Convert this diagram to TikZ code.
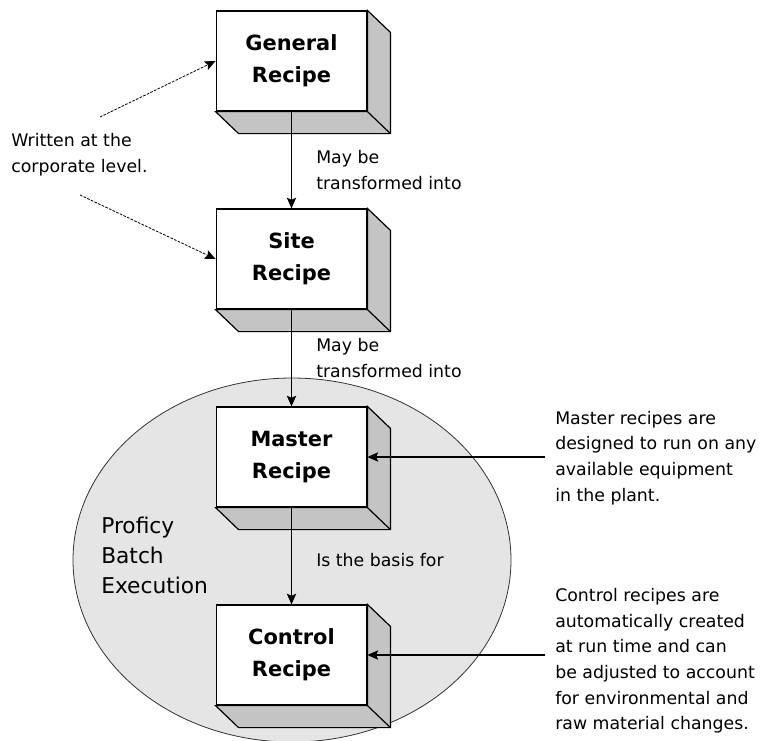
\documentclass[tikz,border=0pt]{standalone}
\usepackage{fontspec}
\setmainfont{DejaVu Sans}
\usepackage{tikz}
\usetikzlibrary{arrows.meta}
\definecolor{bexfill}{gray}{0.9}
\definecolor{boxside}{gray}{0.77}
\tikzstyle{recipe} = [rectangle, draw=black, fill=white, line width=0.9pt, inner sep=0pt, minimum width=113pt, minimum height=75pt, align=center, font=\fontsize{15.7}{24}\selectfont\bfseries]
\tikzstyle{note} = [align=left, inner sep=0pt, font=\fontsize{13}{19.2}\selectfont]
\tikzstyle{side} = [draw=black, fill=boxside, line width=0.9pt]

\begin{document}
\begin{tikzpicture}[x=0.75pt,y=-0.75pt,>={Stealth[length=8pt,width=7pt,inset=1.5pt]}]
\useasboundingbox (0,0) rectangle (763,740);
% execution boundary
\draw[fill=bexfill, draw=black!80, line width=0.6pt] (292,560) ellipse [x radius=219, y radius=182];
\node[note, font=\fontsize{16.3}{22.5}\selectfont] (pbe) at (101,555) [anchor=west] {Proficy\\Batch\\Execution};

\node [recipe] (general) at (291.5,61) {General\\Recipe};
\node [recipe] (site) at (291.5,259) {Site\\Recipe};
\node [recipe] (master) at (291.5,457) {Master\\Recipe};
\node [recipe] (control) at (291.5,655) {Control\\Recipe};

\foreach \n in {general,site,master,control}{
  \draw[side] (\n.north east) -- ([shift={(23,22)}]\n.north east) -- ([shift={(23,22)}]\n.south east) -- ([shift={(23,22)}]\n.south west) -- (\n.south west) -- (\n.south east) -- cycle;
  \draw[side] (\n.south east) -- ([shift={(23,22)}]\n.south east);
}

\draw[->, line width=0.9pt] (general.south) -- (site.north);
\draw[->, line width=0.9pt] (site.south) -- (master.north);
\draw[->, line width=0.9pt] (master.south) -- (control.north);

\node[note, anchor=west] (may1) at (316,170) {May be\\transformed into};
\node[note, anchor=west] (may2) at (316,358) {May be\\transformed into};
\node[note, anchor=west] (basis) at (316,560) {Is the basis for};

% corporate level
\node[note, anchor=west] (written) at (11,155) {Written at the\\corporate level.};
\coordinate (w1) at (100,117);
\coordinate (w2) at (80,195);
\draw[->, dash pattern=on 2pt off 1pt, line width=0.6pt] (w1) -- (general.west);
\draw[->, dash pattern=on 2pt off 1pt, line width=0.6pt] (w2) -- (site.west);

% notes on the right
\node[note, anchor=west, inner xsep=7.5pt] (mnote) at (545,458) {Master recipes are\\designed to run on any\\available equipment\\in the plant.};
\node[note, anchor=west, inner xsep=7.5pt] (cnote) at (545,661) {Control recipes are\\automatically created\\at run time and can\\be adjusted to account\\for environmental and\\raw material changes.};
\draw[->, line width=0.8pt] (mnote.west |- master.east) -- (master.east);
\draw[->, line width=0.8pt] (cnote.west |- control.east) -- (control.east);
\end{tikzpicture}
\end{document}
